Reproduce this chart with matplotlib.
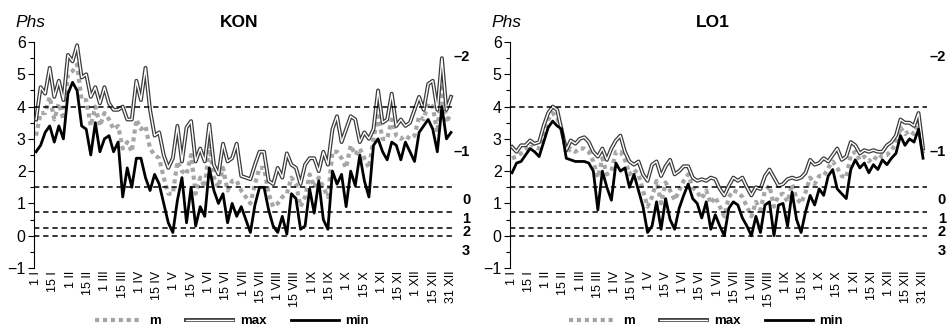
import numpy as np
import matplotlib
matplotlib.use("Agg")
import matplotlib.pyplot as plt
from matplotlib.lines import Line2D

plt.rcParams['font.family'] = ['Liberation Sans', 'DejaVu Sans']

# day of year, sampled every 4 days
days = list(range(0, 365, 4))

kon_max = [3.6, 4.6, 4.4, 5.2, 4.3, 4.8, 4.2, 5.6, 5.4, 5.9, 4.9, 5.0, 4.3, 4.6, 4.1, 4.6,
           4.1, 3.9, 3.9, 4.0, 3.6, 3.6, 4.8, 4.2, 5.2, 3.9, 3.1, 3.2, 2.5, 2.1, 2.4, 3.4,
           2.3, 3.35, 3.55, 2.3, 2.7, 2.3, 3.45, 2.2, 1.9, 2.85, 2.3, 2.4, 2.85, 1.85, 1.8, 1.75,
           2.2, 2.6, 2.6, 1.7, 1.6, 2.1, 1.8, 2.55, 2.2, 2.1, 1.6, 2.2, 2.4, 2.4, 2.0, 2.6,
           2.2, 3.3, 3.7, 2.9, 3.3, 3.7, 3.6, 2.9, 3.2, 3.0, 3.3, 4.5, 3.5, 3.6, 4.4, 3.4,
           3.6, 3.4, 3.5, 3.9, 4.3, 3.9, 4.7, 4.8, 3.9, 5.5, 3.9, 4.3]
kon_min = [2.6, 2.8, 3.2, 3.4, 2.9, 3.4, 3.0, 4.4, 4.75, 4.5, 3.4, 3.3, 2.5, 3.5, 2.6, 3.0,
           3.1, 2.6, 2.9, 1.2, 2.1, 1.5, 2.4, 2.4, 1.8, 1.4, 1.9, 1.6, 1.0, 0.4, 0.1, 1.1,
           1.8, 0.4, 1.5, 0.3, 0.9, 0.6, 2.1, 1.4, 1.0, 1.3, 0.4, 1.0, 0.6, 0.9, 0.5, 0.1,
           0.95, 1.5, 1.5, 0.8, 0.3, 0.1, 0.6, 0.05, 1.3, 1.15, 0.2, 0.3, 1.45, 0.7, 1.7, 0.5,
           0.2, 2.0, 1.6, 1.9, 0.9, 2.0, 1.55, 2.5, 1.7, 1.2, 2.8, 3.0, 2.6, 2.35, 2.9, 2.8,
           2.35, 2.9, 2.6, 2.3, 3.2, 3.4, 3.6, 3.3, 2.6, 4.0, 3.0, 3.2]
kon_m = [3.1, 3.8, 3.8, 4.3, 3.6, 4.1, 3.6, 5.0, 5.1, 5.3, 4.2, 4.2, 3.4, 4.0, 3.4, 3.8,
         3.6, 3.3, 3.4, 2.7, 2.9, 2.6, 3.6, 3.3, 3.4, 2.7, 2.5, 2.4, 1.8, 1.3, 1.3, 2.3,
         2.0, 1.9, 2.5, 1.3, 1.8, 1.5, 2.8, 1.8, 1.5, 2.1, 1.4, 1.7, 1.7, 1.4, 1.2, 1.0,
         1.6, 2.1, 2.1, 1.3, 0.9, 1.0, 1.2, 1.3, 1.8, 1.6, 0.9, 1.2, 1.9, 1.5, 1.8, 1.5,
         1.2, 2.6, 2.6, 2.4, 2.1, 2.8, 2.5, 2.7, 2.4, 2.1, 3.0, 3.7, 3.0, 3.0, 3.6, 3.1,
         3.0, 3.1, 3.0, 3.1, 3.7, 3.6, 4.1, 4.0, 3.2, 4.7, 3.5, 3.8]

lo1_max = [2.75, 2.6, 2.8, 2.8, 2.95, 2.85, 2.9, 3.4, 3.8, 4.0, 3.9, 3.25, 2.65, 2.95, 2.85, 3.0,
           3.05, 2.9, 2.6, 2.45, 2.7, 2.35, 2.7, 2.95, 3.1, 2.6, 2.3, 2.2, 2.3, 1.9, 1.7, 2.2,
           2.3, 1.85, 2.15, 2.35, 1.9, 2.0, 2.15, 2.15, 1.8, 1.7, 1.75, 1.7, 1.8, 1.75, 1.45, 1.25,
           1.55, 1.8, 1.7, 1.8, 1.5, 1.25, 1.5, 1.45, 1.85, 2.05, 1.8, 1.55, 1.6, 1.75, 1.8, 1.75,
           1.8, 1.95, 2.35, 2.2, 2.25, 2.4, 2.3, 2.5, 2.7, 2.35, 2.45, 2.9, 2.8, 2.55, 2.65, 2.6,
           2.65, 2.6, 2.6, 2.8, 2.9, 3.1, 3.6, 3.5, 3.5, 3.4, 3.8, 2.7]
lo1_min = [1.95, 2.25, 2.3, 2.5, 2.7, 2.6, 2.45, 2.9, 3.35, 3.55, 3.4, 3.3, 2.4, 2.35, 2.3, 2.3,
           2.3, 2.25, 2.0, 0.8, 2.0, 1.5, 1.1, 2.25, 2.0, 2.1, 1.5, 1.9, 1.4, 0.9, 0.1, 0.3,
           1.05, 0.2, 1.15, 0.5, 0.2, 0.85, 1.25, 1.6, 1.15, 1.0, 0.55, 1.05, 0.2, 0.65, 0.3, 0.0,
           0.85, 1.05, 0.95, 0.55, 0.3, 0.0, 0.6, 0.1, 0.95, 1.05, 0.0, 0.95, 1.0, 0.3, 1.35, 0.5,
           0.1, 0.75, 1.25, 0.95, 1.45, 1.25, 1.85, 2.05, 1.45, 1.3, 1.15, 2.05, 2.35, 2.1, 2.25, 1.95,
           2.2, 2.05, 2.35, 2.2, 2.4, 2.55, 3.1, 2.8, 3.0, 2.9, 3.3, 2.4]
lo1_m = [2.4, 2.45, 2.55, 2.65, 2.85, 2.75, 2.7, 3.15, 3.6, 3.8, 3.65, 3.3, 2.55, 2.7, 2.6, 2.7,
         2.7, 2.6, 2.3, 1.8, 2.4, 1.9, 2.0, 2.6, 2.6, 2.35, 1.9, 2.05, 1.9, 1.4, 0.9, 1.2,
         1.7, 1.0, 1.65, 1.4, 1.1, 1.4, 1.7, 1.9, 1.5, 1.35, 1.15, 1.4, 1.0, 1.2, 0.9, 0.6,
         1.2, 1.4, 1.35, 1.2, 0.9, 0.6, 1.05, 0.8, 1.4, 1.55, 0.9, 1.25, 1.3, 1.05, 1.6, 1.15,
         1.0, 1.35, 1.8, 1.6, 1.85, 1.85, 2.1, 2.3, 2.1, 1.85, 1.8, 2.5, 2.6, 2.35, 2.45, 2.3,
         2.45, 2.35, 2.5, 2.5, 2.65, 2.85, 3.35, 3.15, 3.25, 3.15, 3.55, 2.55]

tick_labels = ['1 I', '15 I', '1 II', '15 II', '1 III', '15 III', '1 IV', '15 IV', '1 V',
               '15 V', '1 VI', '15 VI', '1 VII', '15 VII', '1 VIII', '15 VIII', '1 IX',
               '15 IX', '1 X', '15 X', '1 XI', '15 XI', '1 XII', '15 XII', '31 XII']
class_levels = [4, 1.5, 0.75, 0.25, 0]
class_labels = ['\u20132', '\u20131', '0', '1', '2', '3']
class_label_y = [5.55, 2.58, 1.1, 0.51, 0.1, -0.48]

panels = [
    ('KON', kon_m, kon_max, kon_min, [34 / 947, 62 / 330, 421 / 947, 226 / 330], 1.036),
    ('LO1', lo1_m, lo1_max, lo1_min, [510 / 947, 62 / 330, 417 / 947, 226 / 330], 1.045),
]

fig = plt.figure(figsize=(9.47, 3.30), dpi=100)

for name, m, mx, mn, rect, lab_x in panels:
    ax = fig.add_axes(rect)
    ax.plot(days, m, color='#a6a6a6', lw=3.0, dashes=(1, 0.9), solid_capstyle='butt', zorder=2)
    ax.plot(days, mx, color='#3a3a3a', lw=2.8, zorder=3)
    ax.plot(days, mx, color='white', lw=1.0, zorder=3.1)
    ax.plot(days, mn, color='black', lw=2.0, zorder=4)
    for lev in class_levels:
        ax.axhline(lev, color='black', lw=1.1, dashes=(3.5, 2.5), zorder=5)

    ax.set_xlim(-1.8, 367.5)
    ax.set_ylim(-1, 6)
    ax.set_yticks(range(-1, 7))
    ax.set_yticks(np.arange(-0.5, 6, 1), minor=True)
    ax.tick_params(axis='y', which='major', direction='out', length=4, width=0.8, labelsize=11.5, pad=2)
    ax.tick_params(axis='y', which='minor', direction='out', length=3, width=0.8)
    ax.set_xticks(np.linspace(0, 364, len(tick_labels)))
    ax.set_xticklabels(tick_labels, rotation=90, fontsize=9)
    ax.tick_params(axis='x', length=0, pad=2)
    for s in ['top', 'right', 'bottom']:
        ax.spines[s].set_visible(False)
    ax.spines['left'].set_linewidth(0.8)

    ax.text(0.487, 1.088, name, transform=ax.transAxes, ha='center', va='center',
            fontsize=12.5, fontweight='bold')
    ax.text(-0.045, 1.088, 'Phs', transform=ax.transAxes, ha='left', va='center',
            fontsize=12.5, style='italic')
    for lab, yv in zip(class_labels, class_label_y):
        ax.text(lab_x, yv, lab, transform=ax.get_yaxis_transform(), ha='right', va='center',
                fontsize=10.5, fontweight='bold', clip_on=False)

    h_m = Line2D([], [], color='#a6a6a6', lw=3.0, dashes=(1, 0.9), solid_capstyle='butt')
    h_max = (Line2D([], [], color='#3a3a3a', lw=2.8), Line2D([], [], color='white', lw=1.0))
    h_min = Line2D([], [], color='black', lw=2.0)
    leg = ax.legend([h_m, h_max, h_min], ['m', 'max', 'min'], loc='center',
                    bbox_to_anchor=(0.47, -0.235), ncol=3, frameon=False,
                    handlelength=3.6, handletextpad=0.5, columnspacing=1.9,
                    prop={'weight': 'bold', 'size': 9.5})

fig.savefig('out.png', dpi=100)
